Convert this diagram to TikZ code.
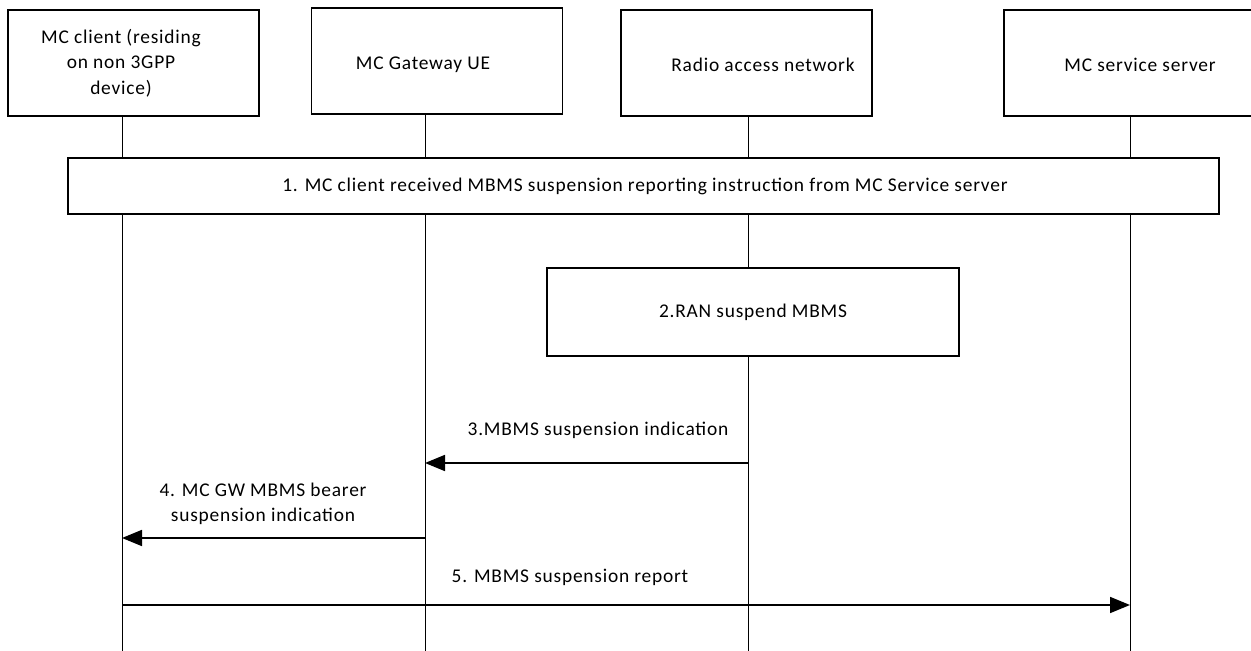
\documentclass[tikz,border=0pt]{standalone}
\usepackage{fontspec}
\setmainfont[LetterSpace=4]{Carlito}
\usetikzlibrary{arrows.meta}
\begin{document}
\begin{tikzpicture}[x=1bp,y=-1bp,
  actor/.style={draw=black,line width=1.2bp,fill=white,minimum width=251bp,minimum height=106bp,inner sep=0pt},
  stepbox/.style={draw=black,line width=1.2bp,fill=white,inner sep=0pt},
  lbl/.style={font=\fontsize{19.5}{25.5}\selectfont,inner sep=0pt,align=center},
  life/.style={line width=0.9bp},
  msg/.style={line width=1.7bp,-{Triangle[length=20bp,width=16bp]}}]
\useasboundingbox (0,0) rectangle (1251,651);
\fill[white] (0,0) rectangle (1251,651);
% actors
\node[actor] (a1) at (133.5,63) {};
\node[actor] (a2) at (437,61) {};
\node[actor] (a3) at (746.5,63) {};
\node[actor] (a4) at (1129.5,63) {};
\node[lbl] (t1) at (121,63) {MC client (residing\\on non 3GPP\\device)};
\node[lbl] (t2) at (423,65) {MC Gateway UE};
\node[lbl] (t3) at (763,65) {Radio access network};
\node[lbl] (t4) at (1140,65) {MC service server};
% lifeline ends
\coordinate (b1) at (122,651);
\coordinate (b2) at (425,651);
\coordinate (b3) at (748,651);
\coordinate (b4) at (1130,651);
\coordinate (u1) at (122,116);
\coordinate (u2) at (425,114);
\coordinate (u3) at (748,116);
\coordinate (u4) at (1130,116);
\draw[life] (u1) -- (b1);
\draw[life] (u2) -- (b2);
\draw[life] (u3) -- (b3);
\draw[life] (u4) -- (b4);
% step boxes
\node[stepbox,minimum width=1151bp,minimum height=56bp] (s1) at (643.5,186) {};
\node[lbl] (s1t) at (645,186) {1. MC client received MBMS suspension reporting instruction from MC Service server};
\node[stepbox,minimum width=412bp,minimum height=88bp] (s2) at (753,312) {};
\node[lbl] (s2t) at (753,312) {2.RAN suspend MBMS};
% message anchor points
\coordinate (m3a) at (748,463);
\coordinate (m3b) at (425,463);
\coordinate (m4a) at (425,538);
\coordinate (m4b) at (122,538);
\coordinate (m5a) at (122,605);
\coordinate (m5b) at (1130,605);
\draw[msg] (m3a) -- (m3b);
\draw[msg] (m4a) -- (m4b);
\draw[msg] (m5a) -- (m5b);
\node[lbl] (l3) at (598,430) {3.MBMS suspension indication};
\node[lbl] (l4) at (263,504) {4. MC GW MBMS bearer\\suspension indication};
\node[lbl] (l5) at (570,577) {5. MBMS suspension report};
\end{tikzpicture}
\end{document}
